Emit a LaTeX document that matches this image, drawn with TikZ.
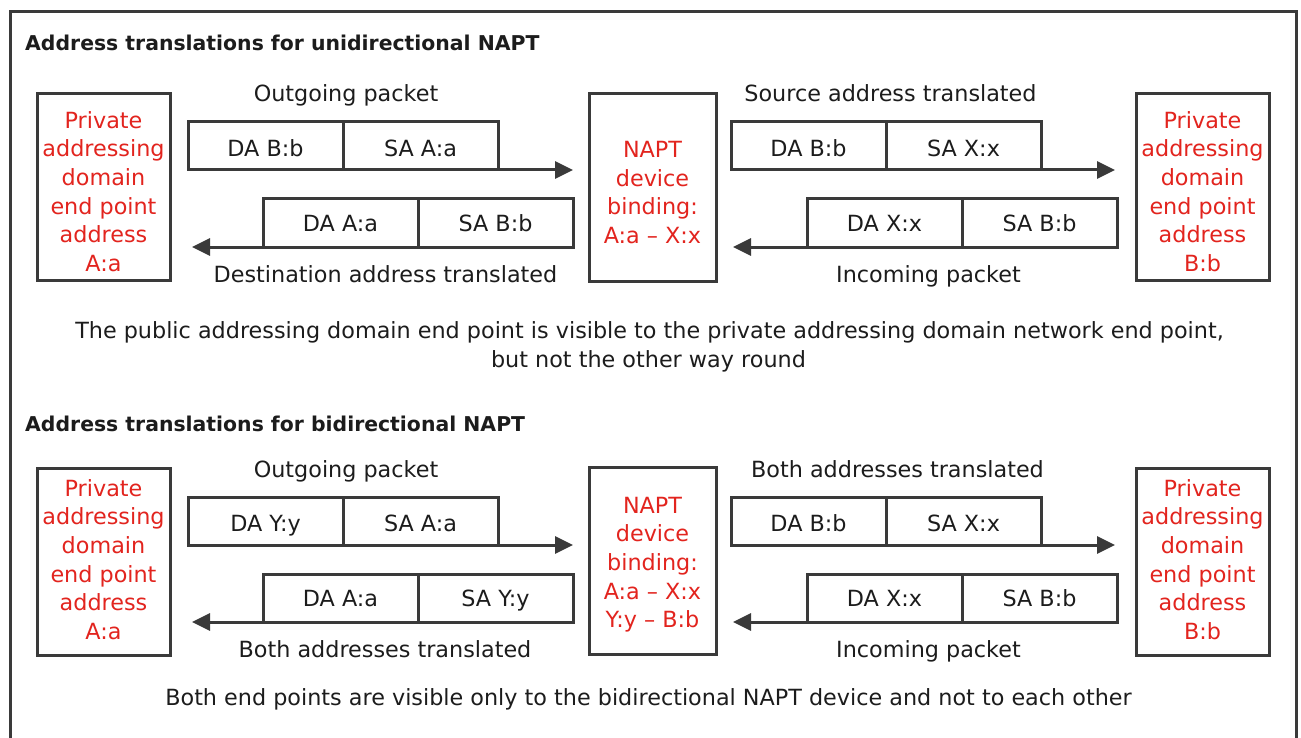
\documentclass[tikz,border=0pt]{standalone}
\usepackage{fontspec}
\setmainfont{DejaVu Sans}
\usetikzlibrary{arrows.meta}
\definecolor{napred}{RGB}{226,36,30}
\definecolor{ink}{RGB}{28,28,28}
\definecolor{rule}{RGB}{58,58,58}
\tikzset{
  basefont/.style={font=\fontsize{22.3}{28.6}\selectfont},
  frameline/.style={draw=rule, line width=3pt},
  cell/.style={draw=rule, line width=3pt, minimum width=155pt, minimum height=48pt,
    inner sep=0pt, outer sep=0pt, text=ink, basefont, text depth=0pt},
  outcell/.style={cell, text height=20.5pt},
  incell/.style={cell, text height=16.2pt},
  endbox/.style={draw=rule, line width=3pt, minimum width=133pt, minimum height=187pt,
    inner sep=0pt, outer sep=0pt},
  naptbox/.style={draw=rule, line width=3pt, minimum width=127pt, minimum height=187pt,
    inner sep=0pt, outer sep=0pt},
  redtxt/.style={text=napred, align=center, inner sep=0pt, basefont},
  lbl/.style={text=ink, anchor=base, inner sep=0pt, basefont},
  ttl/.style={text=ink, anchor=base west, inner sep=0pt,
    font=\fontsize{20.4}{26}\selectfont\bfseries},
  arr/.style={draw=rule, line width=3pt, -{Triangle[length=18pt,width=17pt]}}
}
\begin{document}
\begin{tikzpicture}[x=1pt,y=-1pt]
\useasboundingbox (0,0) rectangle (1301,738);
% outer frame, open at the bottom
\draw[frameline] (10,738) -- (10,12) -- (1296,12) -- (1296,738);

% ---------------- unidirectional NAPT ----------------
\node[ttl] (t1) at (25,51) {Address translations for unidirectional NAPT};

\node[endbox] (epA1) at (103.5,187) {};
\node[redtxt] (epA1t) at (103.5,191.5) {Private\\addressing\\domain\\end point\\address\\A:a};
\node[naptbox] (napt1) at (652.5,187.5) {};
\node[redtxt] (napt1t) at (652.5,192.7) {NAPT\\device\\binding:\\A:a – X:x};
\node[endbox] (epB1) at (1202.5,187) {};
\node[redtxt] (epB1t) at (1202.5,191.5) {Private\\addressing\\domain\\end point\\address\\B:b};

\node[outcell] (o1da) at (265.5,146) {DA B:b};
\node[outcell] (o1sa) at (420.5,146) {SA A:a};
\node[incell] (i1da) at (340.5,223) {DA A:a};
\node[incell] (i1sa) at (495.5,223) {SA B:b};
\node[outcell] (o2da) at (808.5,146) {DA B:b};
\node[outcell] (o2sa) at (963.5,146) {SA X:x};
\node[incell] (i2da) at (884.5,223) {DA X:x};
\node[incell] (i2sa) at (1039.5,223) {SA B:b};

\draw[arr] (o1da.south west) -- ([xshift=-16pt]o1da.south west -| napt1.west);
\draw[arr] (i1sa.south east) -- ([xshift=22pt]i1sa.south east -| epA1.east);
\draw[arr] (o2da.south west) -- ([xshift=-21pt]o2da.south west -| epB1.west);
\draw[arr] (i2sa.south east) -- ([xshift=17pt]i2sa.south east -| napt1.east);

\node[lbl] (l1) at (346,102) {Outgoing packet};
\node[lbl] (l2) at (890.5,102) {Source address translated};
\node[lbl] (l3) at (385.5,282) {Destination address translated};
\node[lbl] (l4) at (928.5,282) {Incoming packet};
\node[lbl] (c1) at (649.5,338) {The public addressing domain end point is visible to the private addressing domain network end point,};
\node[lbl] (c2) at (648.5,367) {but not the other way round};

% ---------------- bidirectional NAPT ----------------
\node[ttl] (t2) at (25,431) {Address translations for bidirectional NAPT};

\node[endbox] (epA2) at (103.5,561.5) {};
\node[redtxt] (epA2t) at (103.5,559.5) {Private\\addressing\\domain\\end point\\address\\A:a};
\node[naptbox] (napt2) at (652.5,561) {};
\node[redtxt] (napt2t) at (652.5,564.7) {NAPT\\device\\binding:\\A:a – X:x\\Y:y – B:b};
\node[endbox] (epB2) at (1202.5,561.5) {};
\node[redtxt] (epB2t) at (1202.5,559.5) {Private\\addressing\\domain\\end point\\address\\B:b};

\node[outcell] (o3da) at (265.5,521) {DA Y:y};
\node[outcell] (o3sa) at (420.5,521) {SA A:a};
\node[incell] (i3da) at (340.5,598) {DA A:a};
\node[incell] (i3sa) at (495.5,598) {SA Y:y};
\node[outcell] (o4da) at (808.5,521) {DA B:b};
\node[outcell] (o4sa) at (963.5,521) {SA X:x};
\node[incell] (i4da) at (884.5,598) {DA X:x};
\node[incell] (i4sa) at (1039.5,598) {SA B:b};

\draw[arr] (o3da.south west) -- ([xshift=-16pt]o3da.south west -| napt2.west);
\draw[arr] (i3sa.south east) -- ([xshift=22pt]i3sa.south east -| epA2.east);
\draw[arr] (o4da.south west) -- ([xshift=-21pt]o4da.south west -| epB2.west);
\draw[arr] (i4sa.south east) -- ([xshift=17pt]i4sa.south east -| napt2.east);

\node[lbl] (l5) at (346,477) {Outgoing packet};
\node[lbl] (l6) at (897.5,477) {Both addresses translated};
\node[lbl] (l7) at (385,657) {Both addresses translated};
\node[lbl] (l8) at (928.5,657) {Incoming packet};
\node[lbl] (c3) at (648.5,705) {Both end points are visible only to the bidirectional NAPT device and not to each other};
\end{tikzpicture}
\end{document}
